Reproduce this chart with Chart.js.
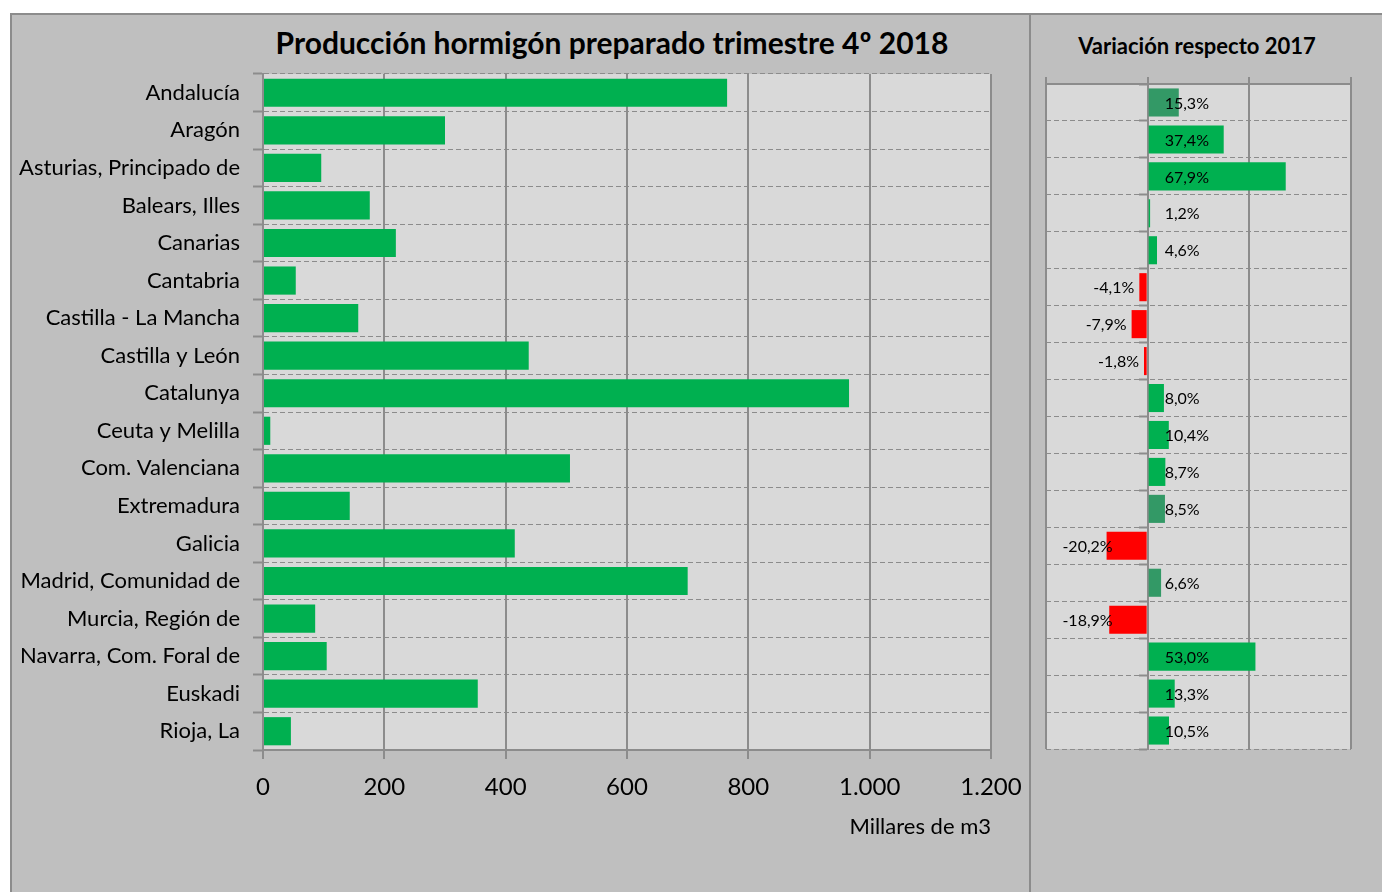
<!DOCTYPE html>
<html>
<head>
<meta charset="utf-8">
<script src="https://cdn.jsdelivr.net/npm/chart.js@4.4.1/dist/chart.umd.min.js"></script>
<style>
  html, body { margin: 0; padding: 0; background: #fff; width: 1382px; height: 892px; overflow: hidden; font-family: Lato, sans-serif; }
  .panel { position: absolute; top: 13px; height: 900px; background: #bfbfbf; border: 2px solid #8c8c8c; box-sizing: border-box; }
  #panelLeft { left: 10px; width: 1021px; }
  #panelRight { left: 1029px; width: 380px; }
  canvas { position: absolute; }
  .title { position: absolute; font-weight: bold; color: #000; white-space: nowrap; line-height: 1; transform: translateX(-50%); }
  #titleLeft { left: 612px; top: 27px; font-size: 30px; }
  #titleRight { left: 1197px; top: 35px; font-size: 22px; }
</style>
</head>
<body>
<div class="panel" id="panelLeft"></div>
<div class="panel" id="panelRight"></div>
<div class="title" id="titleLeft">Producción hormigón preparado trimestre 4º 2018</div>
<div class="title" id="titleRight">Variación respecto 2017</div>
<canvas id="chartProduction" width="1020" height="860" style="left:10px;top:13px;"></canvas>
<canvas id="chartVariation" width="352" height="800" style="left:1030px;top:13px;"></canvas>

<script>
/* ── Data ─────────────────────────────────────────────────── */
const regions = [
  'Andalucía', 'Aragón', 'Asturias, Principado de', 'Balears, Illes', 'Canarias',
  'Cantabria', 'Castilla - La Mancha', 'Castilla y León', 'Catalunya', 'Ceuta y Melilla',
  'Com. Valenciana', 'Extremadura', 'Galicia', 'Madrid, Comunidad de', 'Murcia, Región de',
  'Navarra, Com. Foral de', 'Euskadi', 'Rioja, La',
];

// Millares de m3
const production = [765, 300, 96, 176, 219, 54, 157, 438, 966, 12, 506, 143, 415, 700, 86, 105, 354, 46];

// % variación respecto 2017
const variation = [15.3, 37.4, 67.9, 1.2, 4.6, -4.1, -7.9, -1.8, 8.0, 10.4, 8.7, 8.5, -20.2, 6.6, -18.9, 53.0, 13.3, 10.5];

const productionTicks = [0, 200, 400, 600, 800, 1000, 1200];
const variationTicks = [-50, 0, 50, 100];

/* ── Styles ───────────────────────────────────────────────── */
const Colors = {
  green: '#00b050',
  darkGreen: '#339966',
  red: '#ff0000',
  plot: '#d9d9d9',
  grid: '#8c8c8c',
  text: '#000000',
};
const FONT = 'Lato, sans-serif';
const darkRows = ['Andalucía', 'Extremadura', 'Madrid, Comunidad de'];

Chart.defaults.font.family = FONT;
Chart.defaults.color = Colors.text;

const plotBackground = {
  id: 'plotBackground',
  beforeDraw(chart) {
    const { ctx, chartArea: a } = chart;
    ctx.save();
    ctx.fillStyle = Colors.plot;
    ctx.fillRect(a.left, a.top, a.width, a.height);
    ctx.restore();
  },
};

const fmtThousands = (v) => String(v).replace(/\B(?=(\d{3})+(?!\d))/g, '.');

/* ── Producción (horizontal bar) ─────────────────────────── */
new Chart(document.getElementById('chartProduction'), {
  type: 'bar',
  data: {
    labels: regions,
    datasets: [{
      data: production,
      backgroundColor: Colors.green,
      borderWidth: 0,
      barPercentage: 0.75,
      categoryPercentage: 1,
    }],
  },
  plugins: [plotBackground],
  options: {
    indexAxis: 'y',
    responsive: false,
    animation: false,
    layout: { padding: { top: 61, right: 39, left: 0, bottom: 33 } },
    plugins: { legend: { display: false }, tooltip: { enabled: false }, title: { display: false } },
    scales: {
      x: {
        min: productionTicks[0],
        max: productionTicks[productionTicks.length - 1],
        afterBuildTicks: (s) => { s.ticks = productionTicks.map(v => ({ value: v })); },
        afterFit: (s) => { s.height = 90; s.paddingLeft = 0; s.paddingRight = 0; },
        ticks: { font: { size: 24 }, color: Colors.text, padding: 14, callback: fmtThousands, maxRotation: 0 },
        grid: { color: Colors.grid, lineWidth: 2, tickLength: 9 },
        border: { color: Colors.grid, width: 2 },
        title: { display: true, text: 'Millares de m3', align: 'end', font: { size: 22 }, color: Colors.text, padding: { top: 0, bottom: 0 } },
      },
      y: {
        afterFit: (s) => { s.width = 253; },
        ticks: { font: { size: 22 }, color: Colors.text, padding: 13, autoSkip: false },
        grid: { color: Colors.grid, lineWidth: 1, offset: true, tickLength: 10, tickBorderDash: [], tickWidth: 2 },
        border: { color: Colors.grid, width: 2, dash: [5, 3] },
      },
    },
  },
});

/* ── Variación respecto 2017 (horizontal bar) ────────────── */
const variationLabels = {
  id: 'variationLabels',
  afterDatasetsDraw(chart) {
    const { ctx } = chart;
    const zeroX = chart.scales.x.getPixelForValue(0);
    ctx.save();
    ctx.font = '16px ' + FONT;
    ctx.fillStyle = Colors.text;
    ctx.textBaseline = 'middle';
    chart.getDatasetMeta(0).data.forEach((bar, i) => {
      const v = variation[i];
      const txt = v.toFixed(1).replace('.', ',') + '%';
      if (v >= 0) {
        ctx.textAlign = 'left';
        ctx.fillText(txt, zeroX + 17, bar.y + 1);
      } else {
        ctx.textAlign = 'right';
        ctx.fillText(txt, Math.max(bar.x - 5, zeroX - 35), bar.y + 1);
      }
    });
    ctx.restore();
  },
};

new Chart(document.getElementById('chartVariation'), {
  type: 'bar',
  data: {
    labels: regions,
    datasets: [{
      data: variation,
      backgroundColor: variation.map((v, i) => v < 0 ? Colors.red : (darkRows.includes(regions[i]) ? Colors.darkGreen : Colors.green)),
      borderWidth: 0,
      barPercentage: 0.76,
      categoryPercentage: 1,
    }],
  },
  plugins: [plotBackground, variationLabels],
  options: {
    indexAxis: 'y',
    responsive: false,
    animation: false,
    layout: { padding: { top: 64, right: 31, left: 16, bottom: 64 } },
    plugins: { legend: { display: false }, tooltip: { enabled: false }, title: { display: false } },
    scales: {
      x: {
        position: 'top',
        min: variationTicks[0],
        max: variationTicks[variationTicks.length - 1],
        afterBuildTicks: (s) => { s.ticks = variationTicks.map(v => ({ value: v })); },
        afterFit: (s) => { s.height = 7; },
        ticks: { display: false },
        grid: { color: Colors.grid, lineWidth: 2, tickLength: 7 },
        border: { color: Colors.grid, width: 2 },
      },
      y: {
        position: { x: 0 },
        ticks: { display: false },
        grid: { color: Colors.grid, lineWidth: 1, offset: true, tickLength: 8, tickBorderDash: [], tickWidth: 2 },
        border: { color: Colors.grid, width: 2, dash: [5, 3] },
      },
    },
  },
});
</script>
</body>
</html>
